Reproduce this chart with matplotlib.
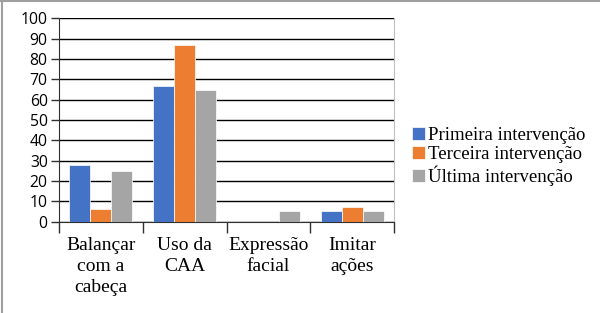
import matplotlib
matplotlib.use("Agg")
import matplotlib.pyplot as plt
from matplotlib.lines import Line2D
from matplotlib.font_manager import FontProperties
import numpy as np

categories = ["Balançar\ncom a\ncabeça", "Uso da\nCAA", "Expressão\nfacial", "Imitar\nações"]
series_names = ["Primeira intervenção", "Terceira intervenção", "Última intervenção"]
primeira = [28, 67, 0, 5]
terceira = [6, 87, 0, 7]
ultima = [25, 65, 5, 5]
colors = ["#4472C4", "#ED7D31", "#A5A5A5"]
yticks = list(range(0, 101, 10))

plt.rcParams['font.family'] = 'serif'
plt.rcParams['font.serif'] = ['Liberation Serif', 'DejaVu Serif']

serif_x = FontProperties(family='Liberation Serif', size=14)
serif_leg = FontProperties(family='Liberation Serif', size=13.5)
sans_y = FontProperties(family='Open Sans', size=11.3)

fig = plt.figure(figsize=(6, 3.13), dpi=100)
# partial gray frame (left and top only)
fig.add_artist(Line2D([0.004, 0.004], [0, 1], transform=fig.transFigure, color='#A0A0A0', lw=1.5))
fig.add_artist(Line2D([0, 1], [0.998, 0.998], transform=fig.transFigure, color='#A0A0A0', lw=1.5))

ax = fig.add_axes([0.098, 0.292, 0.559, 0.649])

x = np.arange(len(categories))
w = 0.25
for i, (vals, name, c) in enumerate(zip([primeira, terceira, ultima], series_names, colors)):
    ax.bar(x + (i - 1) * w, vals, width=w, color=c, edgecolor='white', linewidth=0.5, label=name, zorder=3)

ax.set_xlim(-0.5, len(categories) - 0.5)
ax.set_ylim(0, 100)
ax.set_yticks(yticks)
ax.set_yticklabels([str(t) for t in yticks])
for t in ax.get_yticklabels():
    t.set_fontproperties(sans_y)
ax.yaxis.grid(True, color='black', linewidth=1.0, zorder=0)
ax.tick_params(axis='y', length=6, width=1, pad=2, color='#303030')

ax.set_xticks(np.arange(-0.5, len(categories), 1.0))
ax.set_xticklabels([''] * (len(categories) + 1))
ax.tick_params(axis='x', which='major', length=8, width=1, color='#303030')
ax.set_xticks(x, minor=True)
ax.set_xticklabels(categories, minor=True)
for t in ax.get_xticklabels(minor=True):
    t.set_fontproperties(serif_x)
    t.set_linespacing(1.32)
ax.tick_params(axis='x', which='minor', length=0, pad=11)

ax.spines['top'].set_visible(False)
ax.spines['right'].set_color('#C0C0C0')
ax.spines['left'].set_color('#303030')
ax.spines['bottom'].set_color('#303030')

handles, labels = ax.get_legend_handles_labels()
leg = fig.legend(handles, labels, loc='upper left', bbox_to_anchor=(0.686, 0.595),
                 bbox_transform=fig.transFigure, frameon=False, prop=serif_leg,
                 handlelength=0.7, handleheight=0.7, handletextpad=0.2,
                 labelspacing=0.12, borderaxespad=0, borderpad=0)

fig.savefig("out.png", dpi=100)
